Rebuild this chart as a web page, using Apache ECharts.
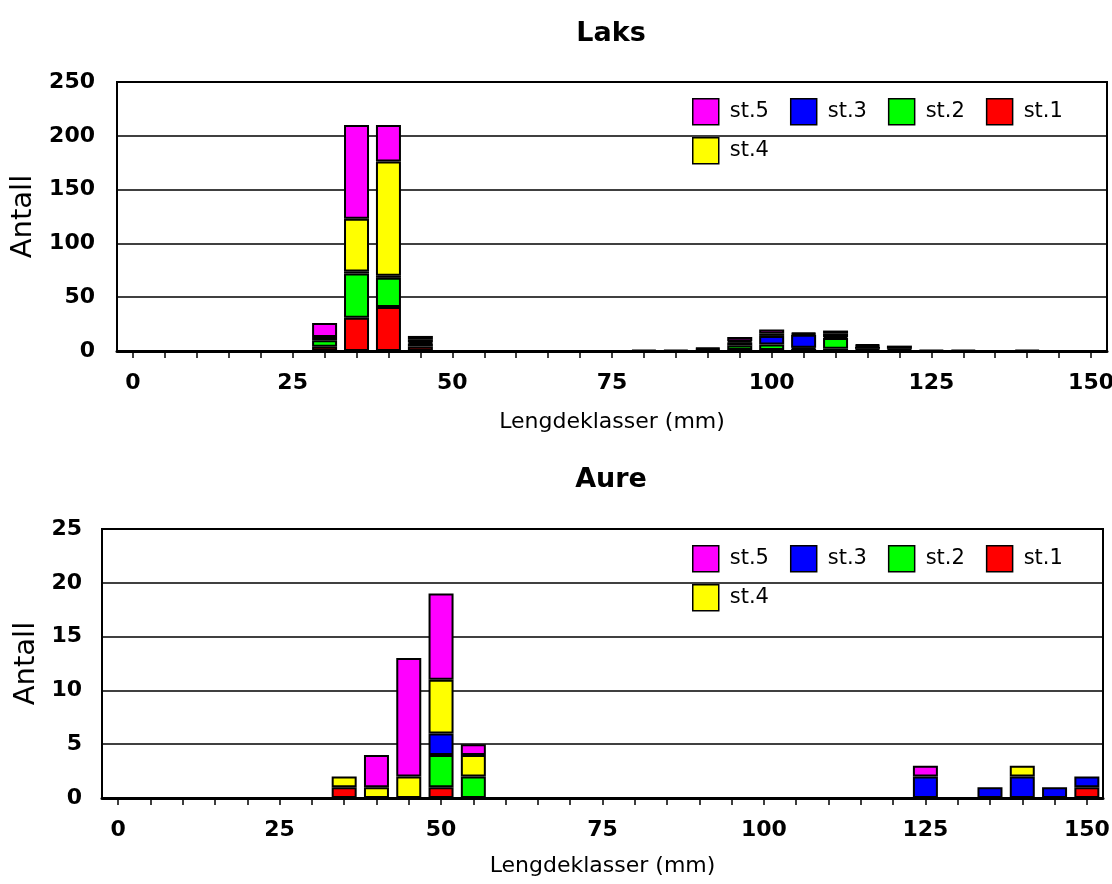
<!DOCTYPE html>
<html>
<head>
<meta charset="utf-8">
<script src="https://cdn.jsdelivr.net/npm/echarts@6/dist/echarts.min.js"></script>
<style>html,body{margin:0;padding:0;background:#fff}#c{width:1112px;height:884px}</style>
</head>
<body>
<div id="c"></div>
<script>
// ---- data ----
const categories = ['0','5','10','15','20','25','30','35','40','45','50','55','60','65','70','75','80','85','90','95','100','105','110','115','120','125','130','135','140','145','150'];
const xTickLabels = ['0','25','50','75','100','125','150'];
const seriesNames = ['st.1','st.2','st.3','st.4','st.5'];   // stack order, bottom to top
const legendRow1 = ['st.5','st.3','st.2','st.1'];
const legendRow2 = ['st.4'];
const seriesColors = ['#FF0000','#00FF00','#0000FF','#FFFF00','#FF00FF'];

// Laks (values per length class)
const laksSt1 = [0,0,0,0,0,0,4,31,41,4, 0,0,0,0,0,0,1,1,1,1, 1,2,2,1,1,1,1,0,1,0, 0];
const laksSt2 = [0,0,0,0,0,0,6,41,27,3, 0,0,0,0,0,0,0,0,1,4, 5,1,10,1,1,0,0,0,0,0, 0];
const laksSt3 = [0,0,0,0,0,0,0,2,2,1, 0,0,0,0,0,0,0,0,1,3, 8,12,1,2,0,0,0,0,0,0, 0];
const laksSt4 = [0,0,0,0,0,0,3,49,106,3, 0,0,0,0,0,0,0,0,0,1, 2,1,3,1,0,0,0,0,0,0, 0];
const laksSt5 = [0,0,0,0,0,0,13,87,34,3, 0,0,0,0,0,0,0,0,0,4, 4,1,3,1,3,0,0,0,0,0, 0];

// Aure
const aureSt1 = [0,0,0,0,0,0,0,1,0,0, 1,0,0,0,0,0,0,0,0,0, 0,0,0,0,0,0,0,0,0,0, 1];
const aureSt2 = [0,0,0,0,0,0,0,0,0,0, 3,2,0,0,0,0,0,0,0,0, 0,0,0,0,0,0,0,0,0,0, 0];
const aureSt3 = [0,0,0,0,0,0,0,0,0,0, 2,0,0,0,0,0,0,0,0,0, 0,0,0,0,0,2,0,1,2,1, 1];
const aureSt4 = [0,0,0,0,0,0,0,1,1,2, 5,2,0,0,0,0,0,0,0,0, 0,0,0,0,0,0,0,0,1,0, 0];
const aureSt5 = [0,0,0,0,0,0,0,0,3,11, 8,1,0,0,0,0,0,0,0,0, 0,0,0,0,0,1,0,0,0,0, 0];

const laksYMax = 250, laksYStep = 50;
const aureYMax = 25, aureYStep = 5;

// ---- chart ----
const laks = [laksSt1, laksSt2, laksSt3, laksSt4, laksSt5];
const aure = [aureSt1, aureSt2, aureSt3, aureSt4, aureSt5];
const font = 'DejaVu Sans';
const toBars = a => a.map(v => v === 0 ? null : v);

function xAxis(gridIndex, nameGap) {
  return {
    type: 'category', gridIndex, data: categories, boundaryGap: true,
    axisLine: { show: true, lineStyle: { color: '#000', width: 3 } },
    axisTick: { show: true, alignWithLabel: true, interval: 0, length: 7, lineStyle: { color: '#000', width: 1.5 } },
    axisLabel: { interval: 0, formatter: v => xTickLabels.includes(v) ? v : '', color: '#000', fontWeight: 'bold', fontSize: 22, fontFamily: font, margin: 21 },
    splitLine: { show: false },
    name: 'Lengdeklasser (mm)', nameLocation: 'middle', nameGap,
    nameTextStyle: { color: '#000', fontSize: 22, fontFamily: font }
  };
}
function yAxis(gridIndex, max, step, margin, nameGap) {
  return {
    type: 'value', gridIndex, min: 0, max, interval: step,
    axisLine: { show: true, lineStyle: { color: '#000', width: 2 } },
    axisTick: { show: false },
    splitLine: { show: true, lineStyle: { color: '#000', width: 1.5 } },
    axisLabel: { color: '#000', fontWeight: 'bold', fontSize: 22, fontFamily: font, margin },
    name: 'Antall', nameLocation: 'middle', nameGap,
    nameTextStyle: { color: '#000', fontSize: 29, fontFamily: font }
  };
}
function legend(data, top) {
  return {
    data, left: 692, top, orient: 'horizontal', padding: 0,
    itemWidth: 26, itemHeight: 26, itemGap: 21, icon: 'rect',
    itemStyle: { borderColor: '#000', borderWidth: 1.5 },
    textStyle: { color: '#000', fontSize: 21, fontFamily: font, padding: [0, 0, 0, 6] },
    selectedMode: false
  };
}
function bars(values, stack, idx) {
  return seriesNames.map((n, i) => ({
    name: n, type: 'bar', stack, xAxisIndex: idx, yAxisIndex: idx,
    data: toBars(values[i]), barWidth: 25,
    itemStyle: { color: seriesColors[i], borderColor: '#000', borderWidth: 2 },
    emphasis: { disabled: true }
  }));
}

const chart = echarts.init(document.getElementById('c'));
chart.setOption({
  animation: false,
  backgroundColor: '#fff',
  title: [
    { text: 'Laks', left: 606, top: 15, textAlign: 'center', textStyle: { fontSize: 27, fontWeight: 'bold', fontFamily: font, color: '#000' } },
    { text: 'Aure', left: 606, top: 461, textAlign: 'center', textStyle: { fontSize: 27, fontWeight: 'bold', fontFamily: font, color: '#000' } }
  ],
  legend: [legend(legendRow1, 98), legend(legendRow2, 137), legend(legendRow1, 545), legend(legendRow2, 584)],
  grid: [
    { left: 117, top: 82, right: 5, height: 269, show: true, borderColor: '#000', borderWidth: 2, outerBoundsMode: 'none' },
    { left: 102, top: 529, right: 9, height: 269, show: true, borderColor: '#000', borderWidth: 2, outerBoundsMode: 'none' }
  ],
  xAxis: [xAxis(0, 60), xAxis(1, 57)],
  yAxis: [yAxis(0, laksYMax, laksYStep, 22, 72), yAxis(1, aureYMax, aureYStep, 20, 57)],
  series: [...bars(laks, 'laks', 0), ...bars(aure, 'aure', 1)]
});
</script>
</body>
</html>
